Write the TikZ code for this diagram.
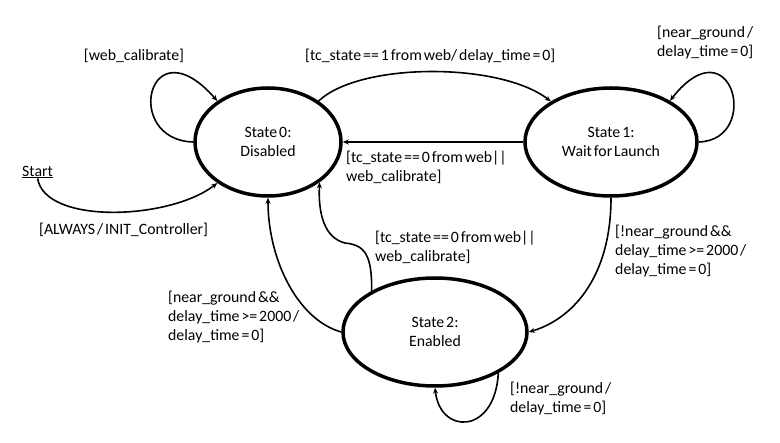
\documentclass[tikz,border=0pt]{standalone}
\usepackage{fontspec}
\setmainfont{Carlito}[WordSpace=0.55]
\usetikzlibrary{shapes.geometric,arrows.meta}
\begin{document}
\begin{tikzpicture}[x=1pt,y=-1pt,
  state/.style={ellipse,draw,line width=3.5pt,inner sep=0pt,align=center,font=\fontsize{15.8}{19}\selectfont},
  lbl/.style={align=left,anchor=west,inner sep=0pt,font=\fontsize{15.8}{19}\selectfont},
  conn/.style={line width=1.6pt,-{Stealth[length=6pt,width=5pt]}}]
\useasboundingbox (0,0) rectangle (780,443);
\node[state,minimum width=146pt,minimum height=108pt] (s0) at (268,142) {State 0:\\Disabled};
\node[state,minimum width=172pt,minimum height=108pt] (s1) at (611,142) {State 1:\\Wait for Launch};
\node[state,minimum width=184pt,minimum height=108pt] (s2) at (435,332) {State 2:\\Enabled};

\node[lbl,anchor=center] (lw) at (134,56) {[web\_calibrate]};
\node[lbl] (l01) at (305,56) {[tc\_state == 1 from web/ delay\_time = 0]};
\node[lbl] (l11) at (657,42.5) {[near\_ground /\\delay\_time = 0]};
\node[lbl] (start) at (22,172) {\underline{Start}};
\node[lbl] (lst) at (39,230) {[ALWAYS / INIT\_Controller]};
\node[lbl] (l10) at (346,167.5) {[tc\_state == 0 from web||\\web\_calibrate]};
\node[lbl] (l20b) at (375,247.5) {[tc\_state == 0 from web||\\web\_calibrate]};
\node[lbl] (l12) at (615,251) {[!near\_ground \&\&\\delay\_time >= 2000 /\\delay\_time = 0]};
\node[lbl] (l20a) at (168,317) {[near\_ground \&\&\\delay\_time >= 2000 /\\delay\_time = 0]};
\node[lbl] (l22) at (510,398.5) {[!near\_ground /\\delay\_time = 0]};

% self loop state 0
\draw[conn] (s0.180) .. controls (122,140) and (148,22) .. (s0.141);
% start
\draw[conn] (start.south) .. controls (45,225) and (170,220) .. (s0.219);
% 0 -> 1
\draw[conn] (s0.39) .. controls (360,62) and (500,62) .. (s1.146);
% 1 -> 0
\draw[conn] (s1.180) -- (s0.0);
% self loop state 1
\draw[conn] (s1.0) .. controls (762,140) and (732,22) .. (s1.35);
% 1 -> 2
\draw[conn] (s1.270) .. controls (611,280) and (570,320) .. (s2.0);
% self loop state 2
\draw[conn] (s2.-33) .. controls (495,435) and (440,435) .. (s2.270);
% 2 -> 0 left
\draw[conn] (s2.180) .. controls (298,320) and (268,260) .. (s0.270);
% 2 -> 0 wavy
\draw[conn] (s2.147) .. controls (372,255) and (365,245) .. (345,243) .. controls (325,238) and (318,215) .. (s0.-38);
\end{tikzpicture}
\end{document}
